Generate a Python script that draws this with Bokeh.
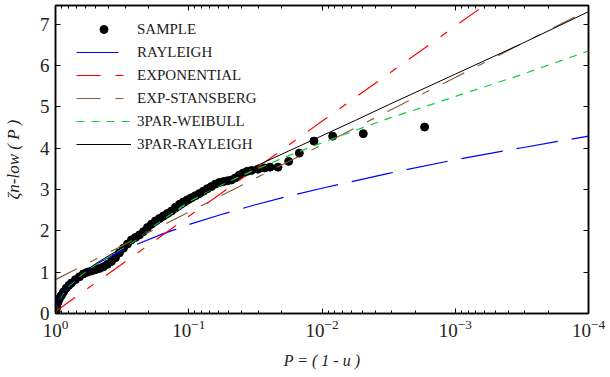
from bokeh.plotting import figure
from bokeh.models import Range1d, LogAxis, LinearAxis, FixedTicker, Legend, LegendItem
from bokeh.embed import file_html
from bokeh.resources import INLINE

SERIF = "Liberation Serif"

# x values are given as decades below 1, i.e. P = 10**(-d)
sample_d = [0.000, 0.005, 0.010, 0.020, 0.030, 0.045, 0.060, 0.080, 0.100, 0.120,
            0.150, 0.180, 0.210, 0.240, 0.270, 0.300, 0.330, 0.360, 0.390, 0.420, 0.450,
            0.480, 0.510, 0.540, 0.570, 0.600, 0.630, 0.660, 0.690, 0.720, 0.750,
            0.780, 0.810, 0.840, 0.870, 0.900, 0.930, 0.960, 0.990, 1.020, 1.050,
            1.080, 1.110, 1.140, 1.170, 1.200, 1.230, 1.260, 1.290, 1.320, 1.350,
            1.380, 1.410, 1.440, 1.470,
            1.520, 1.570, 1.610, 1.670, 1.750, 1.830, 1.940, 2.080, 2.310, 2.770]
sample_z = [0.00, 0.05, 0.15, 0.28, 0.36, 0.44, 0.52, 0.61, 0.68, 0.74,
            0.82, 0.89, 0.96, 1.00, 1.03, 1.06, 1.09, 1.13, 1.19, 1.26, 1.35,
            1.47, 1.58, 1.68, 1.78, 1.84, 1.90, 1.98, 2.08, 2.16, 2.24,
            2.30, 2.36, 2.42, 2.48, 2.57, 2.64, 2.70, 2.75, 2.80, 2.85,
            2.90, 2.96, 3.02, 3.07, 3.13, 3.17, 3.19, 3.21, 3.23, 3.28,
            3.35, 3.40, 3.44, 3.46,
            3.49, 3.52, 3.54, 3.54, 3.68, 3.88, 4.17, 4.29, 4.35, 4.51]

rayleigh_d = [0, 0.01, 0.03, 0.06, 0.1, 0.15, 0.2, 0.3, 0.4, 0.5, 0.6, 0.8, 1.0,
              1.25, 1.5, 1.75, 2.0, 2.5, 3.0, 3.5, 4.0]
rayleigh_z = [0, 0.21, 0.37, 0.53, 0.68, 0.83, 0.96, 1.18, 1.36, 1.52, 1.66, 1.92, 2.15,
              2.40, 2.63, 2.84, 3.03, 3.39, 3.72, 4.01, 4.29]

expo_d = [0, 0.5, 1.0, 1.5, 2.0, 2.5, 3.0, 3.4]
expo_z = [0.05, 1.20, 2.35, 3.50, 4.65, 5.80, 6.95, 7.87]

stansberg_d = [0, 0.5, 1.0, 1.5, 2.0, 2.5, 3.0, 3.5, 4.0]
stansberg_z = [0.82, 1.64, 2.45, 3.27, 4.08, 4.90, 5.71, 6.53, 7.34]

weibull3_d = [0, 0.02, 0.05, 0.1, 0.2, 0.3, 0.4, 0.5, 0.6, 0.75, 1.0, 1.25, 1.5,
              1.75, 2.0, 2.25, 2.5, 2.75, 3.0, 3.5, 4.0]
weibull3_z = [0, 0.25, 0.45, 0.66, 0.95, 1.18, 1.38, 1.57, 1.77, 2.14, 2.70, 3.12, 3.48,
              3.82, 4.13, 4.43, 4.72, 4.98, 5.25, 5.78, 6.35]

rayleigh3_d = [0, 0.02, 0.05, 0.1, 0.2, 0.3, 0.4, 0.5, 0.6, 0.75, 1.0, 1.25, 1.5,
               1.75, 2.0, 2.25, 2.5, 2.75, 3.0, 3.5, 4.0]
rayleigh3_z = [0, 0.28, 0.47, 0.68, 0.97, 1.20, 1.40, 1.59, 1.79, 2.12, 2.65, 3.14, 3.56,
               3.93, 4.30, 4.67, 5.05, 5.42, 5.79, 6.53, 7.30]

x_major = [1.0, 0.1, 0.01, 0.001, 0.0001]
y_major = [0, 1, 2, 3, 4, 5, 6, 7]
series_names = ["SAMPLE", "RAYLEIGH", "EXPONENTIAL", "EXP-STANSBERG", "3PAR-WEIBULL", "3PAR-RAYLEIGH"]


def to_p(decades):
    return [10.0 ** (-d) for d in decades]


p = figure(width=608, height=377, x_axis_type="log",
           x_range=Range1d(1.0, 1e-4), y_range=Range1d(0, 7.45),
           output_backend="svg", toolbar_location=None,
           min_border_left=54, min_border_right=20, min_border_top=5, min_border_bottom=64)
p.grid.visible = False
p.outline_line_color = "black"
p.outline_line_width = 1.5

x_minor = [m * 10.0 ** (-k) for k in range(1, 5) for m in range(2, 10)]
xt = FixedTicker(ticks=x_major, minor_ticks=x_minor)
yt = FixedTicker(ticks=y_major, minor_ticks=[])

p.xaxis.ticker = xt
p.yaxis.ticker = yt


def style_axis(ax):
    ax.axis_line_color = "black"
    ax.axis_line_width = 1.5
    ax.major_tick_in = 5
    ax.major_tick_out = 0
    ax.minor_tick_in = 3
    ax.minor_tick_out = 0
    ax.major_tick_line_color = "black"
    ax.minor_tick_line_color = "black"
    ax.major_label_text_font = SERIF
    ax.major_label_text_font_size = "19px"
    ax.major_label_text_color = "#222222"


style_axis(p.xaxis[0])
style_axis(p.yaxis[0])
p.yaxis.major_label_standoff = 6
p.xaxis.major_label_standoff = 6
p.xaxis.axis_label = "P = ( 1 - u )"
p.xaxis.axis_label_text_font = SERIF
p.xaxis.axis_label_text_font_style = "italic"
p.xaxis.axis_label_text_font_size = "16px"
p.xaxis.axis_label_text_color = "#222222"
p.xaxis.axis_label_standoff = 12

p.yaxis.axis_label = "ζn-low ( P )"
p.yaxis.axis_label_text_font = SERIF
p.yaxis.axis_label_text_font_style = "italic"
p.yaxis.axis_label_text_font_size = "17px"
p.yaxis.axis_label_text_color = "#222222"
p.yaxis.axis_label_standoff = 14

# frame ticks on the top and right sides, without labels
top_ax = LogAxis(ticker=xt)
style_axis(top_ax)
top_ax.major_label_text_alpha = 0
top_ax.major_label_text_font_size = "2px"
top_ax.major_label_standoff = 0
p.add_layout(top_ax, "above")
right_ax = LinearAxis(ticker=yt)
style_axis(right_ax)
right_ax.major_label_text_alpha = 0
right_ax.major_label_text_font_size = "2px"
right_ax.major_label_standoff = 0
p.add_layout(right_ax, "right")

r_sample = p.scatter(to_p(sample_d), sample_z, size=8, color="black", marker="circle")
r_ray = p.line(to_p(rayleigh_d), rayleigh_z, line_color="#0000ff", line_width=1.2, line_dash="42 14")
r_exp = p.line(to_p(expo_d), expo_z, line_color="#ff0000", line_width=1.2, line_dash="24 15 8 15")
r_sta = p.line(to_p(stansberg_d), stansberg_z, line_color="#8b5e34", line_width=1.2, line_dash="24 15 8 15")
r_wei = p.line(to_p(weibull3_d), weibull3_z, line_color="#11cc44", line_width=1.2, line_dash="8 7")
r_r3 = p.line(to_p(rayleigh3_d), rayleigh3_z, line_color="black", line_width=1.0)

renderers = [r_sample, r_ray, r_exp, r_sta, r_wei, r_r3]
legend = Legend(items=[LegendItem(label=n, renderers=[r]) for n, r in zip(series_names, renderers)],
                location=(21, 159), glyph_width=55, glyph_height=20, label_height=20,
                spacing=3, padding=0, margin=0, label_standoff=6,
                label_text_font=SERIF, label_text_font_size="15px", label_text_color="#222222",
                border_line_alpha=0, background_fill_alpha=0)
p.add_layout(legend)

open("out.html", "w").write(file_html(p, INLINE))
